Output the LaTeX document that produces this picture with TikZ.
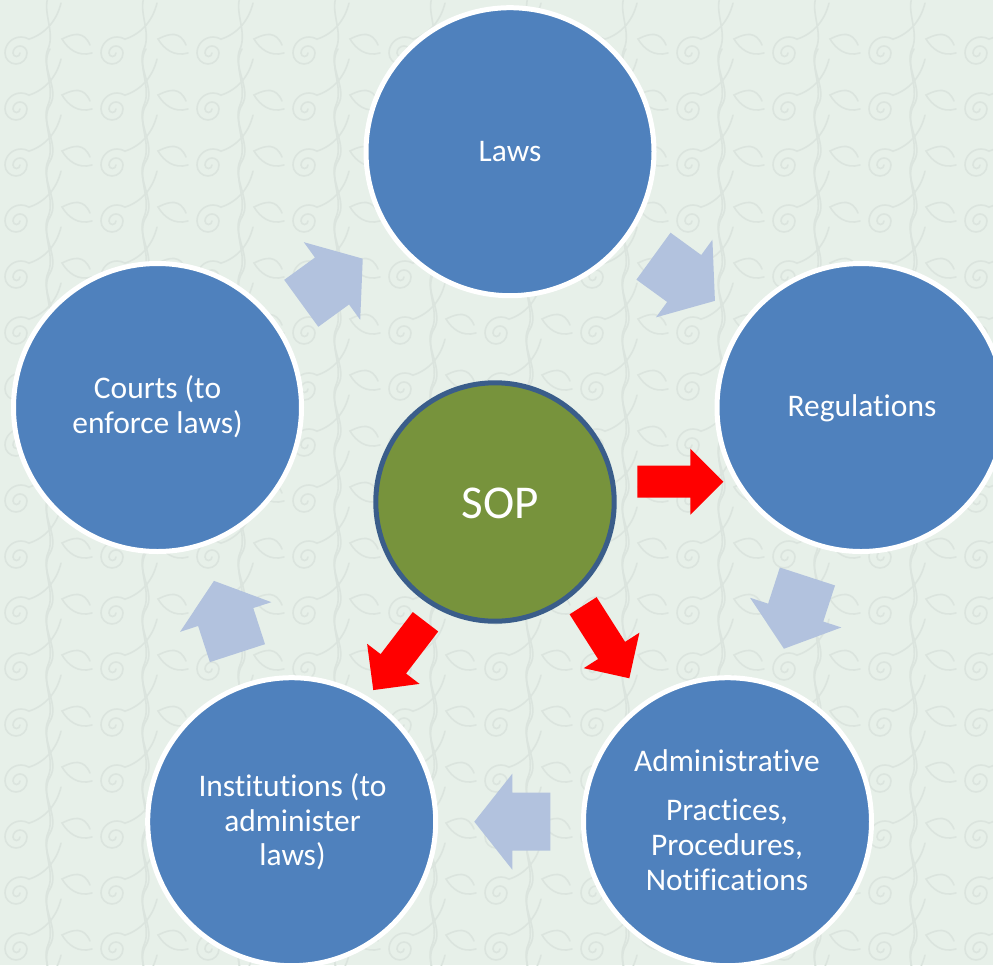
\documentclass[tikz,border=0pt]{standalone}
\usepackage{fontspec}
\setmainfont{Carlito}[Ligatures={NoCommon,NoContextual},Contextuals=NoAlternate]
\definecolor{bg}{HTML}{E7F0E9}
\definecolor{patline}{HTML}{DBE4DE}
\definecolor{circblue}{HTML}{4F81BD}
\definecolor{lightarr}{HTML}{B2C2DE}
\definecolor{sopgreen}{HTML}{77933C}
\definecolor{sopedge}{HTML}{3A5D8A}
\definecolor{arrred}{HTML}{FF0000}
\newcommand\bgswirl[2]{%
  \draw[pat] (#1,#2) arc[start angle=0,end angle=180,radius=3.5]
    arc[start angle=180,end angle=360,radius=7]
    arc[start angle=0,end angle=180,radius=11]
    arc[start angle=180,end angle=300,radius=16]
    .. controls +(18,-6) and +(-4,16) .. ++(32,-36);
  \draw[pat] (#1+30,#2-60) .. controls +(-10,16) and +(8,-18) .. ++(-2,56)
    .. controls +(-8,18) and +(10,-16) .. ++(2,56);
  \draw[pat] (#1+70,#2-8) .. controls +(-6,-14) and +(12,-6) .. ++(-28,-6)
    .. controls +(6,10) and +(-14,4) .. ++(30,14);
}
\begin{document}
\begin{tikzpicture}[x=0.75pt,y=-0.75pt,
  pat/.style={draw=patline, line width=1.2pt, line cap=round},
  outer/.style={circle, fill=circblue, draw=white, line width=3.75pt, minimum size=216pt, inner sep=0pt},
  sop/.style={circle, fill=sopgreen, draw=sopedge, line width=3.75pt, minimum size=178.8pt, inner sep=0pt},
  lbl/.style={text=white, anchor=base, inner sep=0pt, font=\fontsize{23.6}{26}\selectfont},
  soplbl/.style={text=white, anchor=base, inner sep=0pt, font=\fontsize{35.3}{40}\selectfont},
  lightarrow/.pic={\fill[lightarr] (-38,-29) -- (0,-29) -- (0,-48) -- (38,0) -- (0,48) -- (0,29) -- (-38,29) -- cycle;},
  redarrow/.pic={\fill[arrred] (-43,-16) -- (10,-16) -- (10,-33) -- (43,0) -- (10,33) -- (10,16) -- (-43,16) -- cycle;}
]
\useasboundingbox (0,0) rectangle (993,965);
\clip (0,0) rectangle (993,965);
\fill[bg] (0,0) rectangle (993,965);
% background texture
\foreach \i in {0,...,10}{
  \foreach \j in {0,...,17}{
    \bgswirl{\i*96+20}{\j*56+53}
  }
}

% outer circles
\node[outer] (laws) at (510,151.7) {};
\node[outer] (reg) at (861,407.5) {};
\node[outer] (adm) at (727.5,821.7) {};
\node[outer] (inst) at (291.7,821.7) {};
\node[outer] (courts) at (157.5,407.5) {};
% centre circle
\node[sop] (sopc) at (495,502) {};

% cycle arrows
\pic[rotate=36] (a1) at (332,281) {lightarrow};
\pic[rotate=-36] (a2) at (684.2,278.5) {lightarrow};
\pic[rotate=-108] (a3) at (795.7,612.6) {lightarrow};
\pic[rotate=180] (a4) at (512.3,821.7) {lightarrow};
\pic[rotate=108] (a5) at (225.7,617) {lightarrow};

% red arrows
\pic[rotate=0] (r1) at (680.3,481.7) {redarrow};
\pic[rotate=-57.5] (r2) at (606.2,642) {redarrow};
\pic[rotate=-127.4] (r3) at (399.4,655.9) {redarrow};

% labels
\node[lbl] (lawsT) at (510,161.7) {Laws};
\node[lbl] (regT) at (862,416.7) {Regulations};
\node[lbl] (courtsT1) at (157.5,398.3) {Courts (to};
\node[lbl] (courtsT2) at (157.5,433.3) {enforce laws)};
\node[lbl] (instT1) at (292.5,796) {Institutions (to};
\node[lbl] (instT2) at (292.5,831) {administer};
\node[lbl] (instT3) at (292.5,865) {laws)};
\node[lbl] (admT1) at (727,771) {Administrative};
\node[lbl] (admT2) at (727,820) {Practices,};
\node[lbl] (admT3) at (727,855) {Procedures,};
\node[lbl] (admT4) at (727,890) {Notifications};
\node[soplbl] (sopT) at (500,518.3) {SOP};
\end{tikzpicture}
\end{document}
